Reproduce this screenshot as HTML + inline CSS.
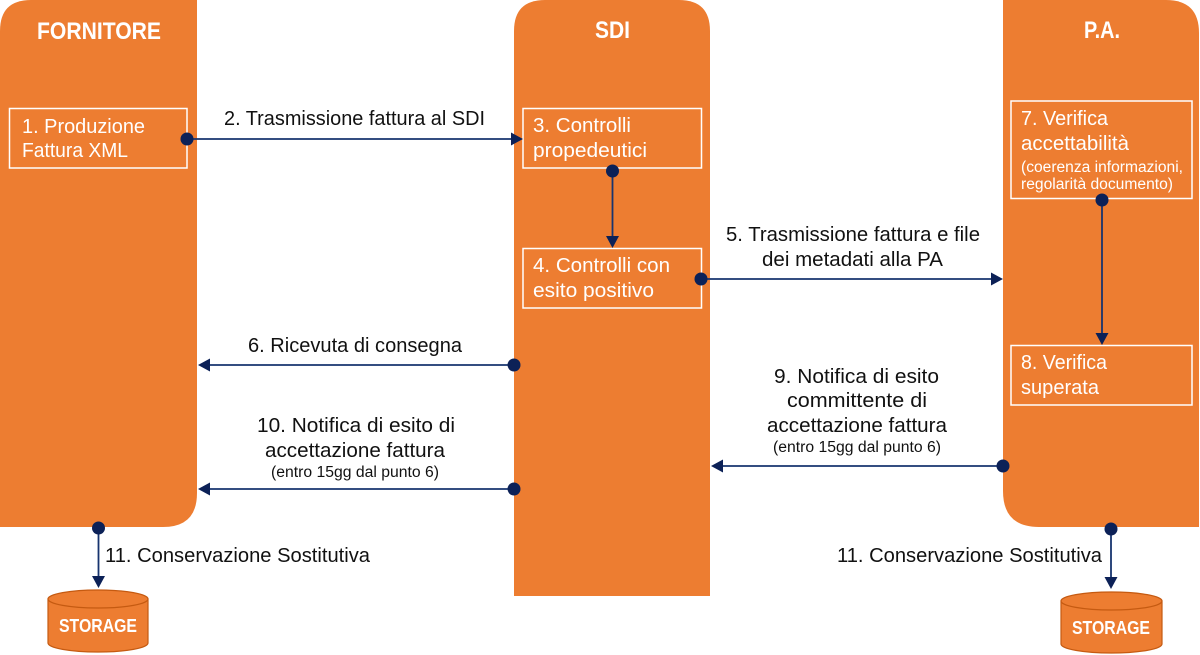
<!DOCTYPE html>
<html>
<head>
<meta charset="utf-8">
<style>
html,body{margin:0;padding:0;background:#fff;}
svg{display:block;}
text{font-family:"Liberation Sans",sans-serif;}
</style>
</head>
<body>
<svg width="1200" height="655" viewBox="0 0 1200 655" xmlns="http://www.w3.org/2000/svg">
  <!-- Lanes -->
  <path d="M0,31 Q0,0 31,0 L197,0 L197,493 Q197,527 163,527 L0,527 Z" fill="#ED7D31"/>
  <path d="M514,596 L514,31 Q514,0 545,0 L679,0 Q710,0 710,31 L710,596 Z" fill="#ED7D31"/>
  <path d="M1003,0 L1166,0 Q1199,0 1199,33 L1199,527 L1039,527 Q1003,527 1003,491 Z" fill="#ED7D31"/>

  <!-- Headers -->
  <text x="37" y="39" font-size="24" font-weight="bold" fill="#fff" textLength="124" lengthAdjust="spacingAndGlyphs">FORNITORE</text>
  <text x="595" y="38" font-size="24" font-weight="bold" fill="#fff" textLength="35" lengthAdjust="spacingAndGlyphs">SDI</text>
  <text x="1084" y="38" font-size="24" font-weight="bold" fill="#fff" textLength="36" lengthAdjust="spacingAndGlyphs">P.A.</text>

  <!-- Boxes -->
  <g fill="none" stroke="#fff" stroke-width="1.5">
    <rect x="9.5" y="108.5" width="177.5" height="59.5"/>
    <rect x="523" y="108.5" width="178.5" height="59.5"/>
    <rect x="523" y="248.5" width="178.5" height="59.5"/>
    <rect x="1011" y="101" width="181" height="97.5"/>
    <rect x="1011" y="345.5" width="181" height="59.5"/>
  </g>

  <!-- Box texts -->
  <g fill="#fff" font-size="20.5">
    <text x="22" y="133" textLength="123" lengthAdjust="spacingAndGlyphs">1. Produzione</text>
    <text x="22" y="157" textLength="106" lengthAdjust="spacingAndGlyphs">Fattura XML</text>
    <text x="533" y="132" textLength="98" lengthAdjust="spacingAndGlyphs">3. Controlli</text>
    <text x="533" y="157" textLength="114" lengthAdjust="spacingAndGlyphs">propedeutici</text>
    <text x="533" y="272" textLength="137" lengthAdjust="spacingAndGlyphs">4. Controlli con</text>
    <text x="533" y="297" textLength="121" lengthAdjust="spacingAndGlyphs">esito positivo</text>
    <text x="1021" y="125" textLength="87" lengthAdjust="spacingAndGlyphs">7. Verifica</text>
    <text x="1021" y="150" textLength="108" lengthAdjust="spacingAndGlyphs">accettabilità</text>
    <text x="1021" y="172" font-size="15.5" textLength="162" lengthAdjust="spacingAndGlyphs">(coerenza informazioni,</text>
    <text x="1021" y="189" font-size="15.5" textLength="152" lengthAdjust="spacingAndGlyphs">regolarità documento)</text>
    <text x="1021" y="369" textLength="86" lengthAdjust="spacingAndGlyphs">8. Verifica</text>
    <text x="1021" y="394" textLength="78" lengthAdjust="spacingAndGlyphs">superata</text>
  </g>

  <!-- Connector labels -->
  <g fill="#111" font-size="20.5">
    <text x="224" y="125" textLength="261" lengthAdjust="spacingAndGlyphs">2. Trasmissione fattura al SDI</text>
    <text x="726" y="241" textLength="254" lengthAdjust="spacingAndGlyphs">5. Trasmissione fattura e file</text>
    <text x="762" y="266" textLength="181" lengthAdjust="spacingAndGlyphs">dei metadati alla PA</text>
    <text x="248" y="352" textLength="214" lengthAdjust="spacingAndGlyphs">6. Ricevuta di consegna</text>
    <text x="774" y="383" textLength="165" lengthAdjust="spacingAndGlyphs">9. Notifica di esito</text>
    <text x="787" y="407" textLength="140" lengthAdjust="spacingAndGlyphs">committente di</text>
    <text x="767" y="432" textLength="180" lengthAdjust="spacingAndGlyphs">accettazione fattura</text>
    <text x="773" y="452" font-size="15.5" textLength="168" lengthAdjust="spacingAndGlyphs">(entro 15gg dal punto 6)</text>
    <text x="257" y="432" textLength="198" lengthAdjust="spacingAndGlyphs">10. Notifica di esito di</text>
    <text x="265" y="457" textLength="180" lengthAdjust="spacingAndGlyphs">accettazione fattura</text>
    <text x="271" y="477" font-size="15.5" textLength="168" lengthAdjust="spacingAndGlyphs">(entro 15gg dal punto 6)</text>
    <text x="105" y="562" textLength="265" lengthAdjust="spacingAndGlyphs">11. Conservazione Sostitutiva</text>
    <text x="837" y="562" textLength="265" lengthAdjust="spacingAndGlyphs">11. Conservazione Sostitutiva</text>
  </g>

  <!-- Connectors -->
  <g stroke="#17346f" stroke-width="1.8" fill="none">
    <line x1="187" y1="139" x2="512" y2="139"/>
    <line x1="612.5" y1="171" x2="612.5" y2="237"/>
    <line x1="701" y1="279" x2="992" y2="279"/>
    <line x1="1102" y1="199" x2="1102" y2="334"/>
    <line x1="514" y1="365" x2="209" y2="365"/>
    <line x1="1003" y1="466" x2="722" y2="466"/>
    <line x1="514" y1="489" x2="209" y2="489"/>
    <line x1="98.5" y1="528" x2="98.5" y2="577"/>
    <line x1="1111" y1="529" x2="1111" y2="578"/>
  </g>
  <g fill="#0c2157">
    <polygon points="523,139 511,132.5 511,145.5"/>
    <polygon points="612.5,248 606,236 619,236"/>
    <polygon points="1003,279 991,272.5 991,285.5"/>
    <polygon points="1102,345 1095.5,333 1108.5,333"/>
    <polygon points="198,365 210,358.5 210,371.5"/>
    <polygon points="711,466 723,459.5 723,472.5"/>
    <polygon points="198,489 210,482.5 210,495.5"/>
    <polygon points="98.5,588 92,576 105,576"/>
    <polygon points="1111,589 1104.5,577 1117.5,577"/>
    <circle cx="187" cy="139" r="6.5"/>
    <circle cx="612.5" cy="171" r="6.5"/>
    <circle cx="701" cy="279" r="6.5"/>
    <circle cx="1102" cy="200" r="6.5"/>
    <circle cx="514" cy="365" r="6.5"/>
    <circle cx="1003" cy="466" r="6.5"/>
    <circle cx="514" cy="489" r="6.5"/>
    <circle cx="98.5" cy="528" r="6.5"/>
    <circle cx="1111" cy="529" r="6.5"/>
  </g>

  <!-- Storage cylinders -->
  <g stroke="#C55A11" stroke-width="1.2" fill="#ED7D31">
    <path d="M48,599 L48,643 A50,9 0 0 0 148,643 L148,599 Z"/>
    <ellipse cx="98" cy="599" rx="50" ry="9"/>
    <path d="M1061,601 L1061,644 A50.5,9 0 0 0 1162,644 L1162,601 Z"/>
    <ellipse cx="1111.5" cy="601" rx="50.5" ry="9"/>
  </g>
  <text x="59" y="632" font-size="18" font-weight="bold" fill="#fff" textLength="78" lengthAdjust="spacingAndGlyphs">STORAGE</text>
  <text x="1072" y="634" font-size="18" font-weight="bold" fill="#fff" textLength="78" lengthAdjust="spacingAndGlyphs">STORAGE</text>
</svg>
</body>
</html>
